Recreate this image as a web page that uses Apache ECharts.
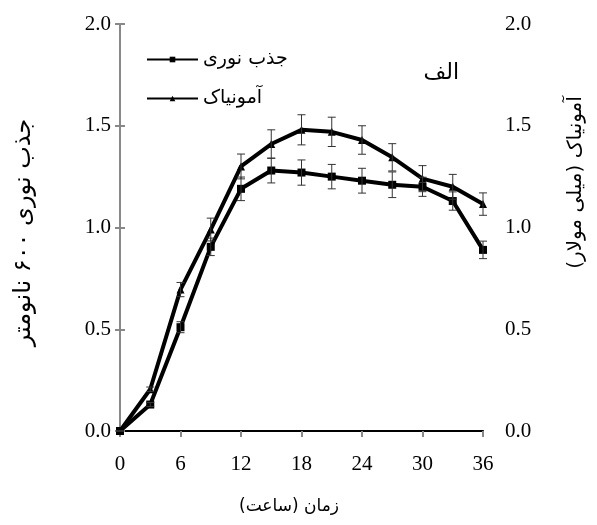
<!DOCTYPE html>
<html><head><meta charset="utf-8">
<script src="https://cdn.jsdelivr.net/npm/echarts@6/dist/echarts.min.js"></script>
<style>html,body{margin:0;padding:0;background:#fff}#c{width:597px;height:525px}</style>
</head><body><div id="c"></div>
<script>
var hours = [0,3,6,9,12,15,18,21,24,27,30,33,36];
var absorbance = [0,0.13,0.51,0.905,1.19,1.28,1.27,1.25,1.23,1.21,1.2,1.13,0.89];
var absorbanceErr = [0,0.01,0.027,0.043,0.058,0.061,0.062,0.06,0.061,0.063,0.047,0.045,0.043];
var ammonia = [0,0.205,0.695,0.99,1.3,1.41,1.48,1.47,1.43,1.345,1.24,1.2,1.115];
var ammoniaErr = [0,0.011,0.035,0.056,0.061,0.07,0.074,0.072,0.07,0.067,0.064,0.061,0.055];
var xTicks = [0,6,12,18,24,30,36];
var yTicks = [0,0.5,1.0,1.5,2.0];
var names = ['جذب نوری','آمونیاک'];

function pairs(v){return hours.map(function(h,i){return [h,v[i]];});}
function errData(v,e){return hours.map(function(h,i){return [h,v[i]-e[i],v[i]+e[i]];});}
function errRender(params, api){
  var x=api.value(0), lo=api.value(1), hi=api.value(2);
  var p1=api.coord([x,lo]), p2=api.coord([x,hi]);
  var w=4;
  var st={stroke:'#333',lineWidth:1};
  return {type:'group',children:[
    {type:'line',shape:{x1:p1[0],y1:p1[1],x2:p2[0],y2:p2[1]},style:st},
    {type:'line',shape:{x1:p1[0]-w,y1:p1[1],x2:p1[0]+w,y2:p1[1]},style:st},
    {type:'line',shape:{x1:p2[0]-w,y1:p2[1],x2:p2[0]+w,y2:p2[1]},style:st}
  ]};
}
var serif='"Liberation Serif","Times New Roman",serif';
var fa='"DejaVu Sans",sans-serif';
var chart=echarts.init(document.getElementById('c'),null,{renderer:'canvas'});
chart.setOption({
  animation:false,
  title:{text:'الف',right:133,top:57,textStyle:{fontFamily:fa,fontSize:22,fontWeight:'normal',color:'#000'}},
  legend:{orient:'vertical',left:141,top:45,itemWidth:51,itemHeight:7,itemGap:20,
    textStyle:{fontFamily:fa,fontSize:19,color:'#000'},data:names},
  grid:{left:120,right:114,top:24,bottom:94},
  xAxis:[{type:'value',min:0,max:36,interval:6,
    axisLine:{lineStyle:{color:'#888',width:2}},
    axisTick:{show:true,length:6,lineStyle:{color:'#888',width:2}},
    splitLine:{show:false},
    axisLabel:{margin:23,fontFamily:serif,fontSize:21,color:'#000',
      formatter:function(v){return xTicks.indexOf(v)>=0?String(v):'';}},
    name:'زمان (ساعت)',nameLocation:'middle',nameGap:67,
    nameTextStyle:{fontFamily:fa,fontSize:17,color:'#000',padding:[0,25,0,0]}},
   {type:'value',position:'top',min:0,max:36,
    axisLine:{show:true,lineStyle:{color:'#000',width:2}},
    axisTick:{show:false},axisLabel:{show:false},splitLine:{show:false}}],
  yAxis:[{type:'value',min:0,max:2,interval:0.5,
    axisLine:{show:true,lineStyle:{color:'#888',width:2}},
    axisTick:{show:true,length:5,lineStyle:{color:'#888',width:2}},
    splitLine:{show:false},
    axisLabel:{margin:9,fontFamily:serif,fontSize:21,color:'#000',
      formatter:function(v){return v.toFixed(1);}},
    name:'جذب نوری ۶۰۰ نانومتر',nameLocation:'middle',nameGap:84,nameRotate:90,
    nameTextStyle:{fontFamily:fa,fontSize:24,color:'#000',padding:[0,10,0,0]}},
   {type:'value',position:'right',min:0,max:2,interval:0.5,
    axisLine:{show:true,lineStyle:{color:'#888',width:2}},
    axisTick:{show:true,length:5,lineStyle:{color:'#888',width:2}},
    splitLine:{show:false},
    axisLabel:{margin:22,fontFamily:serif,fontSize:21,color:'#000',
      formatter:function(v){return v.toFixed(1);}},
    name:'آمونیاک (میلی مولار)',nameLocation:'middle',nameGap:83,nameRotate:90,
    nameTextStyle:{fontFamily:fa,fontSize:20,color:'#000',padding:[0,0,0,90]}}],
  series:[
    {name:names[0],type:'line',data:pairs(absorbance),symbol:'rect',symbolSize:8,
     lineStyle:{color:'#000',width:4},itemStyle:{color:'#000'},z:3},
    {name:names[1],type:'line',data:pairs(ammonia),symbol:'triangle',symbolSize:8,
     lineStyle:{color:'#000',width:4},itemStyle:{color:'#000'},z:3},
    {type:'custom',data:errData(absorbance,absorbanceErr),renderItem:errRender,z:4,encode:{x:0,y:[1,2]}},
    {type:'custom',data:errData(ammonia,ammoniaErr),renderItem:errRender,z:4,encode:{x:0,y:[1,2]}}
  ]
});
</script></body></html>
